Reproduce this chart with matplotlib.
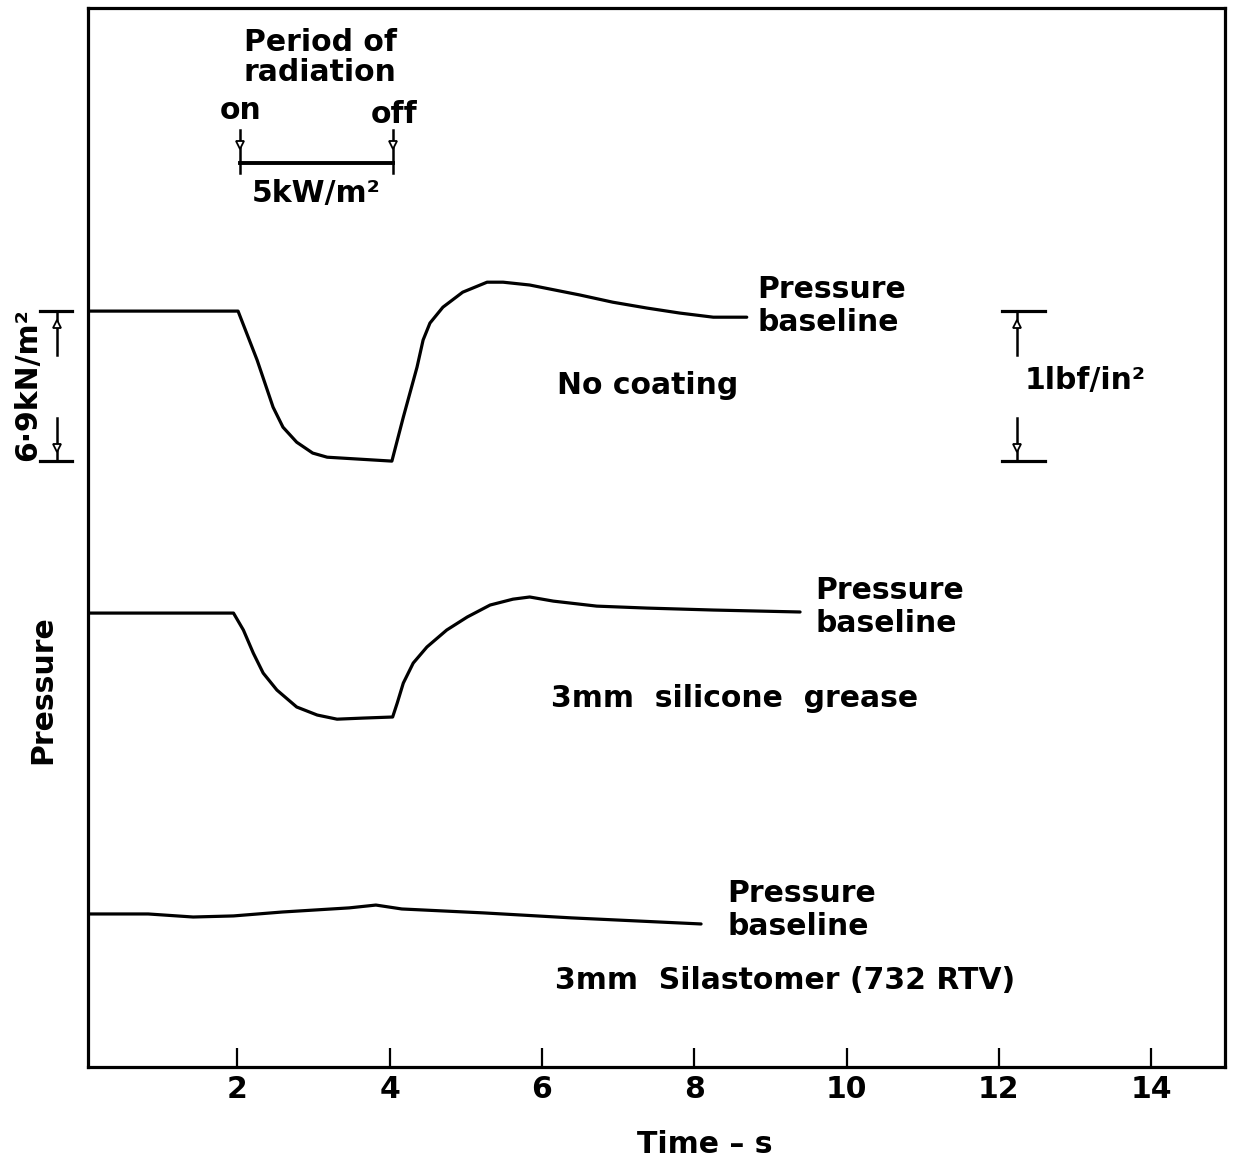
import numpy as np
import matplotlib
matplotlib.use("Agg")
import matplotlib.pyplot as plt

# time in s, pressure change from each trace's own baseline in kN/m^2
t_none = [0.06, 2.01, 2.26, 2.47, 2.60, 2.78, 2.99, 3.18, 4.03, 4.18, 4.36, 4.44, 4.53,
          4.70, 4.96, 5.28, 5.49, 5.84, 6.50, 6.93, 7.38, 7.81, 8.25, 8.69]
p_none = [0.0, 0.0, -2.25, -4.42, -5.34, -6.03, -6.53, -6.72, -6.90, -4.88, -2.58, -1.33, -0.55,
          0.18, 0.87, 1.33, 1.33, 1.20, 0.74, 0.41, 0.14, -0.09, -0.28, -0.28]

t_grease = [0.06, 1.95, 2.08, 2.21, 2.34, 2.52, 2.78, 3.05, 3.31, 3.65, 4.04, 4.10, 4.18,
            4.31, 4.49, 4.75, 5.02, 5.32, 5.62, 5.84, 6.15, 6.72, 7.38, 8.25, 9.39]
p_grease = [0.0, 0.0, -0.78, -1.84, -2.76, -3.54, -4.32, -4.69, -4.88, -4.83, -4.78, -4.14, -3.22,
            -2.30, -1.56, -0.78, -0.18, 0.37, 0.64, 0.74, 0.55, 0.32, 0.23, 0.14, 0.05]

t_rtv = [0.06, 0.83, 1.42, 1.95, 2.59, 3.47, 3.82, 4.16, 5.23, 6.39, 8.09]
p_rtv = [0.0, 0.0, -0.14, -0.09, 0.09, 0.28, 0.41, 0.23, 0.05, -0.18, -0.46]

# vertical offsets of the three traces on the chart (kN/m^2 above the time axis)
offsets = [34.77, 20.88, 7.04]
coatings = ["No coating", "3mm  silicone  grease", "3mm  Silastomer (732 RTV)"]

rad_on, rad_off = 2.04, 4.04
scale_kn = 6.9
xticks = [2, 4, 6, 8, 10, 12, 14]

plt.rcParams['font.family'] = ['DejaVu Sans']
plt.rcParams['font.weight'] = 'bold'
FS = 21.5
LW = 2.3

fig = plt.figure(figsize=(12.33, 11.65), dpi=100)
ax = fig.add_axes([0.0714, 0.0841, 0.9221, 0.909])
ax.set_xlim(0.04, 14.97)
ax.set_ylim(0, 48.71)

for tt, pp, off in zip([t_none, t_grease, t_rtv], [p_none, p_grease, p_rtv], offsets):
    ax.plot(tt, np.array(pp) + off, color='black', lw=LW,
            solid_joinstyle='round', solid_capstyle='round')

# trace labels
lab_x = [8.83, 9.59, 8.44]
lab_y = [35.0, 21.16, 7.22]
for x, y in zip(lab_x, lab_y):
    ax.text(x, y, "Pressure\nbaseline", fontsize=FS, ha='left', va='center', linespacing=1.15)
name_x = [6.20, 6.12, 6.17]
name_y = [31.37, 16.97, 4.0]
for x, y, s in zip(name_x, name_y, coatings):
    ax.text(x, y, s, fontsize=FS, ha='left', va='center')

# period of radiation marker
ax.text(3.09, 46.45, "Period of\nradiation", fontsize=FS, ha='center', va='center', linespacing=1.05)
ax.text(rad_on, 44.0, "on", fontsize=FS, ha='center', va='center')
ax.text(rad_off + 0.02, 43.8, "off", fontsize=FS, ha='center', va='center')
bar_y = 41.58
ax.plot([rad_on, rad_off], [bar_y, bar_y], color='black', lw=LW + 0.5)
for x in (rad_on, rad_off):
    ax.plot([x, x], [43.1, 41.1], color='black', lw=1.8)
    ax.plot(x, 42.4, marker='v', ms=6, mfc='white', mec='black', mew=1.3)
ax.text(3.03, 40.2, "5kW/m²", fontsize=FS, ha='center', va='center')

# pressure scale bars on both sides
def scale_bar(xc, x0, x1, base):
    top, bot = base, base - scale_kn
    for y in (top, bot):
        ax.plot([x0, x1], [y, y], color='black', lw=LW, clip_on=False)
    ax.plot([xc, xc], [top, top - 2.0], color='black', lw=1.8, clip_on=False)
    ax.plot([xc, xc], [bot + 2.0, bot], color='black', lw=1.8, clip_on=False)
    ax.plot(xc, top - 0.6, marker='^', ms=6, mfc='white', mec='black', mew=1.3, clip_on=False)
    ax.plot(xc, bot + 0.6, marker='v', ms=6, mfc='white', mec='black', mew=1.3, clip_on=False)

scale_bar(-0.37, -0.59, -0.17, offsets[0])
scale_bar(12.24, 12.04, 12.61, offsets[0])
ax.text(-0.75, 31.37, "6·9kN/m²", fontsize=FS, rotation=90, ha='center', va='center', clip_on=False)
ax.text(12.34, 31.6, "1lbf/in²", fontsize=FS, ha='left', va='center')

ax.text(-0.56, 17.34, "Pressure", fontsize=FS, rotation=90, ha='center', va='center', clip_on=False)
fig.text(0.5718, 0.0172, "Time – s", fontsize=FS, ha='center', va='center')

ax.set_xticks(xticks)
ax.set_xticklabels([str(v) for v in xticks])
ax.set_yticks([])
ax.tick_params(axis='x', direction='in', length=14, width=1.6, labelsize=FS, pad=6)
for sp in ax.spines.values():
    sp.set_linewidth(LW)

fig.savefig("out.png", dpi=100)
